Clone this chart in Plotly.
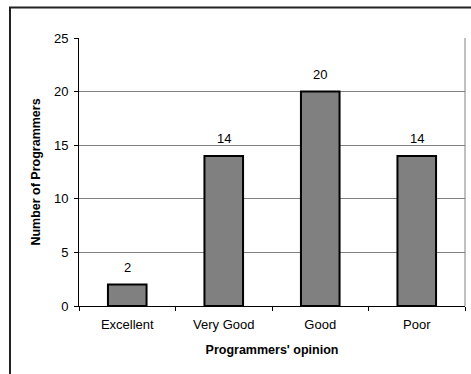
import plotly.graph_objects as go

categories = ["Excellent", "Very Good", "Good", "Poor"]
counts = [2, 14, 20, 14]
y_ticks = [0, 5, 10, 15, 20, 25]

W, H = 471, 374
L, R, T, B = 79, 6, 38, 68
pw, ph = W - L - R, H - T - B

FAM = "Liberation Sans, Arial"
tick_font = dict(family=FAM, size=13, color="black")
title_font = dict(family=FAM, size=12.5, color="black")

fig = go.Figure(go.Bar(
    x=categories, y=counts,
    marker=dict(color="#808080", line=dict(color="black", width=2)),
    width=0.4,
))

for c, v in zip(categories, counts):
    fig.add_annotation(x=c, y=v, text=str(v), showarrow=False,
                       yanchor="bottom", yshift=8, font=tick_font)

fig.update_layout(
    width=W, height=H, margin=dict(l=L, r=R, t=T, b=B),
    paper_bgcolor="white", plot_bgcolor="white",
    font=tick_font, showlegend=False,
    xaxis=dict(
        type="category", tickson="boundaries", ticks="outside", ticklen=4,
        tickcolor="black", showline=True, linecolor="black", linewidth=1,
        showgrid=False, tickfont=tick_font, ticklabelstandoff=6,
        title=dict(text="<b>Programmers' opinion</b>", font=title_font, standoff=14),
    ),
    yaxis=dict(
        range=[0, 25], tickvals=y_ticks, ticks="outside", ticklen=4,
        tickcolor="black", showline=True, linecolor="black", linewidth=1,
        showgrid=True, gridcolor="#808080", gridwidth=1, zeroline=False,
        tickfont=tick_font, ticklabelstandoff=3,
        title=dict(text="<b>Number of Programmers</b>", font=title_font, standoff=10),
    ),
    shapes=[
        dict(type="line", xref="paper", yref="paper", x0=1, x1=1, y0=0, y1=1,
             line=dict(color="#808080", width=1)),
        dict(type="rect", xref="paper", yref="paper",
             x0=(10 - L) / pw, x1=(480 - L) / pw,
             y0=(H - B - 385) / ph, y1=(H - B - 7.5) / ph,
             line=dict(color="#222222", width=2), layer="above"),
    ],
)

fig.write_html("out.html")
